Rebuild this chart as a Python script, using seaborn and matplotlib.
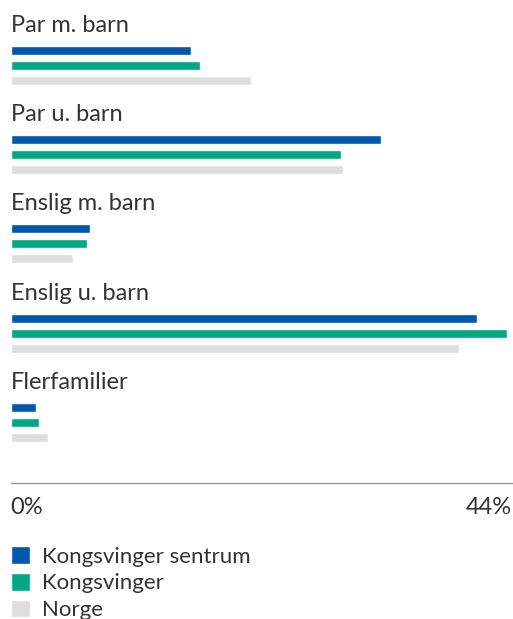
import matplotlib
matplotlib.use("Agg")
import matplotlib.pyplot as plt
import pandas as pd
import seaborn as sns

categories = ["Par m. barn", "Par u. barn", "Enslig m. barn", "Enslig u. barn", "Flerfamilier"]
series = ["Kongsvinger sentrum", "Kongsvinger", "Norge"]
sentrum = [15.8, 32.5, 7.0, 41.0, 2.2]
kongsvinger = [16.6, 29.0, 6.7, 43.6, 2.5]
norge = [21.1, 29.2, 5.5, 39.4, 3.3]
colors = ["#0058AE", "#00A884", "#DEDEDE"]
tick_labels = ["0%", "44%"]

rows = []
for name, vals in zip(series, [sentrum, kongsvinger, norge]):
    for cat, v in zip(categories, vals):
        rows.append({"kategori": cat, "serie": name, "andel": v})
df = pd.DataFrame(rows)

sns.set_style("white")
plt.rcParams["font.family"] = ["Lato", "DejaVu Sans"]
txt = "#333333"

fig = plt.figure(figsize=(5.13, 6.19), dpi=100)
ax = fig.add_axes([10.7 / 513, 1 - 483 / 619, 500.8 / 513, 483 / 619])

sns.barplot(data=df, x="andel", y="kategori", hue="serie", orient="h",
            palette=colors, width=0.505, gap=0.4, ax=ax, legend=True,
            saturation=1)

ax.set_xlim(0, 44)
ax.set_ylim(4.68, -0.734)
ax.set_xlabel("")
ax.set_ylabel("")
ax.set_yticks([])
sns.despine(ax=ax, left=True)
ax.spines["bottom"].set_color("#999999")
ax.spines["bottom"].set_linewidth(1)

# kategorinavn over hver gruppe
for i, cat in enumerate(categories):
    ax.text(0, i - 0.375, cat, ha="left", va="baseline", fontsize=17, color=txt)

ax.set_xticks([0, 44])
ax.set_xticklabels(tick_labels, fontsize=17, color=txt)
ax.tick_params(axis="x", length=0, pad=10)
lbls = ax.get_xticklabels()
lbls[0].set_ha("left")
lbls[1].set_ha("right")

handles, labels = ax.get_legend_handles_labels()
ax.get_legend().remove()
fig.legend(handles, labels, loc="upper left", bbox_to_anchor=(2 / 513, 1 - 537 / 619),
           frameon=False, fontsize=16, handlelength=0.86, handleheight=0.86,
           handletextpad=0.55, labelspacing=0.28, labelcolor=txt, borderaxespad=0)

fig.savefig("out.png", dpi=100)
